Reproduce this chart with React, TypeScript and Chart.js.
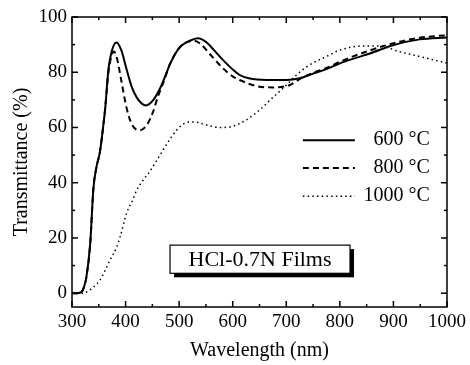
import React, { useEffect, useRef } from "react";
import { Chart, registerables } from "chart.js";
Chart.register(...registerables);

const FONT = "'Liberation Serif', 'Times New Roman', serif";

const xTicks = [300, 400, 500, 600, 700, 800, 900, 1000];
const yTicks = [0, 20, 40, 60, 80, 100];

const wl600 = [300, 310, 318, 322, 327, 334, 340, 346, 352, 358, 362, 368, 374, 383, 392, 402, 411, 424, 438, 452, 464, 475, 483, 501, 520, 535, 550, 565, 582, 600, 613, 630, 663, 700, 725, 750, 781, 800, 830, 856, 899, 949, 1000];
const t600 = [0, 0, 0.5, 2, 6, 18, 38, 46, 51, 60, 67, 81, 87.5, 90.8, 88, 81, 75, 70, 68, 70, 74, 79, 83, 89, 91.4, 92.3, 91, 88, 84.4, 81, 79, 77.8, 77.2, 77.2, 77.8, 79.5, 81.6, 83.2, 85.2, 86.8, 89.8, 91.9, 92.6];

const wl800 = [300, 310, 318, 322, 327, 334, 340, 346, 352, 358, 362, 368, 374, 378, 384, 392, 402, 412, 427, 440, 452, 460, 470, 483, 501, 520, 530, 539, 560, 582, 600, 613, 644, 675, 707, 725, 750, 781, 800, 850, 900, 949, 1000];
const t800 = [0, 0, 0.5, 2, 6, 18, 38, 46, 51, 60, 67, 80, 86, 87.5, 85, 77, 67, 61, 59, 61, 66, 71, 76, 83, 89, 91.2, 91.3, 90.4, 86, 81.4, 78.5, 77.2, 75, 74.5, 75.4, 77.5, 79.8, 82, 83.8, 87.5, 90.5, 92.5, 93.4];

const wl1000 = [300, 320, 334, 352, 371, 383, 390, 402, 414, 420, 433, 445, 458, 477, 495, 510, 520, 535, 551, 576, 601, 625, 650, 675, 694, 719, 743, 774, 800, 843, 870, 893, 905, 949, 1000];
const t1000 = [0, 0, 1.3, 4.7, 12, 16.5, 20.5, 29, 34, 37, 41, 44, 48, 54, 59, 61.5, 62, 61.8, 60.9, 60, 60.5, 62.7, 66.3, 70.9, 74.2, 79, 82.6, 85.6, 88, 89.5, 89.5, 88.7, 87.8, 85.7, 83.3];

const seriesLabels = ["600 °C", "800 °C", "1000 °C"];
const boxLabel = "HCl-0.7N Films";
const xTitle = "Wavelength (nm)";
const yTitle = "Transmittance (%)";

const toPts = (xs: number[], ys: number[]) => xs.map((x, i) => ({ x, y: ys[i] }));

const decor = {
  id: "decor",
  afterDatasetsDraw(chart: any) {
    const { ctx, chartArea: a, scales } = chart;
    const x = scales.x;
    const y = scales.y;
    ctx.save();
    ctx.strokeStyle = "#000";
    ctx.fillStyle = "#000";
    ctx.setLineDash([]);
    ctx.lineWidth = 1.5;
    ctx.strokeRect(a.left, a.top, a.right - a.left, a.bottom - a.top);
    const seg = (x1: number, y1: number, x2: number, y2: number) => {
      ctx.beginPath();
      ctx.moveTo(x1, y1);
      ctx.lineTo(x2, y2);
      ctx.stroke();
    };
    ctx.lineWidth = 1.5;
    for (let v = 300; v <= 1000; v += 50) {
      const px = x.getPixelForValue(v);
      const len = v % 100 === 0 ? 6 : 3;
      seg(px, a.bottom, px, a.bottom - len);
      seg(px, a.top, px, a.top + len);
    }
    for (let v = 0; v <= 100; v += 10) {
      const py = y.getPixelForValue(v);
      const len = v % 20 === 0 ? 6 : 3;
      seg(a.left, py, a.left + len, py);
      seg(a.right, py, a.right - len, py);
    }
    // legend
    const legY = [55.4, 45.3, 35.1];
    const lx1 = x.getPixelForValue(731);
    const lx2 = x.getPixelForValue(828);
    const tx = x.getPixelForValue(968);
    ctx.font = `20px ${FONT}`;
    ctx.textAlign = "right";
    ctx.textBaseline = "middle";
    chart.data.datasets.forEach((ds: any, i: number) => {
      const py = y.getPixelForValue(legY[i]);
      ctx.save();
      ctx.lineWidth = ds.borderWidth;
      ctx.setLineDash(ds.borderDash || []);
      seg(lx1, py, lx2, py);
      ctx.restore();
      ctx.fillText(seriesLabels[i], tx, py);
    });
    // label box
    const bx1 = x.getPixelForValue(483);
    const bx2 = x.getPixelForValue(819);
    const by1 = y.getPixelForValue(17.4);
    const by2 = y.getPixelForValue(7.2);
    ctx.fillStyle = "#000";
    ctx.fillRect(bx1 + 4, by1 + 4, bx2 - bx1, by2 - by1);
    ctx.fillStyle = "#fff";
    ctx.fillRect(bx1, by1, bx2 - bx1, by2 - by1);
    ctx.lineWidth = 1.2;
    ctx.strokeRect(bx1, by1, bx2 - bx1, by2 - by1);
    ctx.fillStyle = "#000";
    ctx.textAlign = "center";
    ctx.font = `22px ${FONT}`;
    ctx.fillText(boxLabel, (bx1 + bx2) / 2, (by1 + by2) / 2 + 1);
    ctx.restore();
  },
};

export default function App() {
  const ref = useRef<HTMLCanvasElement | null>(null);
  useEffect(() => {
    document.body.style.margin = "0";
    const canvas = ref.current;
    if (!canvas) return;
    const chart = new Chart(canvas, {
      type: "line",
      data: {
        datasets: [
          { label: seriesLabels[0], data: toPts(wl600, t600), borderColor: "#000", borderWidth: 2, borderDash: [], pointRadius: 0, cubicInterpolationMode: "monotone", fill: false },
          { label: seriesLabels[1], data: toPts(wl800, t800), borderColor: "#000", borderWidth: 2, borderDash: [6, 4], pointRadius: 0, cubicInterpolationMode: "monotone", fill: false },
          { label: seriesLabels[2], data: toPts(wl1000, t1000), borderColor: "#000", borderWidth: 1.5, borderDash: [1.5, 3.2], pointRadius: 0, cubicInterpolationMode: "monotone", fill: false },
        ],
      },
      options: {
        responsive: false,
        animation: false,
        layout: { padding: { top: 17, right: 23, left: 0, bottom: 0 } },
        plugins: { legend: { display: false }, tooltip: { enabled: false } },
        scales: {
          x: {
            type: "linear",
            min: 300,
            max: 1000,
            grid: { display: false, drawTicks: false },
            border: { display: false },
            afterBuildTicks: (s: any) => { s.ticks = xTicks.map((v) => ({ value: v })); },
            afterFit: (s: any) => { s.height = 58; },
            ticks: { color: "#000", font: { family: FONT, size: 19 }, padding: 4, autoSkip: false, maxRotation: 0, callback: (v: any) => String(v) },
            title: { display: true, text: xTitle, color: "#000", font: { family: FONT, size: 20 }, padding: { top: 0, bottom: 2 } },
          },
          y: {
            type: "linear",
            min: -5,
            max: 100,
            grid: { display: false, drawTicks: false },
            border: { display: false },
            afterBuildTicks: (s: any) => { s.ticks = yTicks.map((v) => ({ value: v })); },
            afterFit: (s: any) => { s.width = 72; },
            ticks: { color: "#000", font: { family: FONT, size: 19 }, padding: 5, autoSkip: false, callback: (v: any) => String(v) },
            title: { display: true, text: yTitle, color: "#000", font: { family: FONT, size: 20 }, padding: { top: 10, bottom: 0 } },
          },
        },
      },
      plugins: [decor],
    } as any);
    return () => chart.destroy();
  }, []);
  return (
    <div style={{ position: "absolute", left: 0, top: 0, width: 470, height: 365 }}>
      <canvas ref={ref} width={470} height={365} />
    </div>
  );
}
